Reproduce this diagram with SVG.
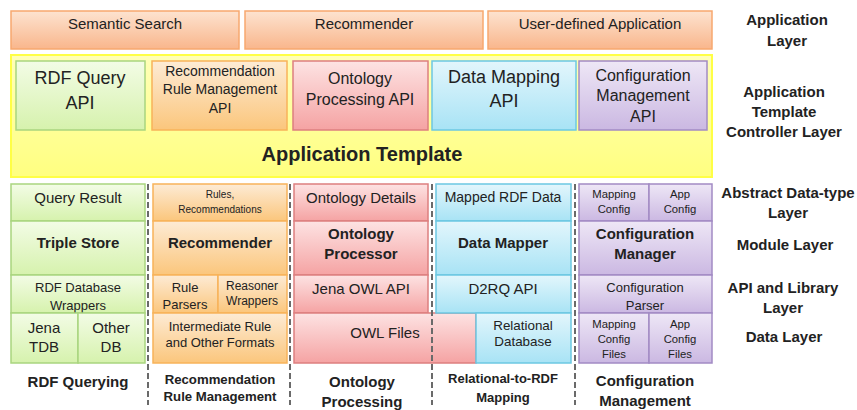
<svg xmlns="http://www.w3.org/2000/svg" width="857" height="410" viewBox="0 0 857 410">
<defs>
<linearGradient id="gO" x1="0" y1="0" x2="0" y2="1"><stop offset="0" stop-color="#fde3d0"/><stop offset="1" stop-color="#f9b68c"/></linearGradient>
<linearGradient id="gY" x1="0" y1="0" x2="0" y2="1"><stop offset="0" stop-color="#ffffb8"/><stop offset="1" stop-color="#ffff80"/></linearGradient>
<linearGradient id="gG" x1="0" y1="0" x2="0" y2="1"><stop offset="0" stop-color="#f3fce6"/><stop offset="1" stop-color="#d6f2ad"/></linearGradient>
<linearGradient id="gA" x1="0" y1="0" x2="0" y2="1"><stop offset="0" stop-color="#fdebd5"/><stop offset="1" stop-color="#fbc67c"/></linearGradient>
<linearGradient id="gR" x1="0" y1="0" x2="0" y2="1"><stop offset="0" stop-color="#fde3e3"/><stop offset="1" stop-color="#f5a3a3"/></linearGradient>
<linearGradient id="gB" x1="0" y1="0" x2="0" y2="1"><stop offset="0" stop-color="#e3f6fc"/><stop offset="1" stop-color="#a8e3f5"/></linearGradient>
<linearGradient id="gP" x1="0" y1="0" x2="0" y2="1"><stop offset="0" stop-color="#eee7f6"/><stop offset="1" stop-color="#cbb8e2"/></linearGradient>
</defs>
<style>
text{font-family:"Liberation Sans",Arial,sans-serif;fill:#222;text-anchor:middle}
.b{font-weight:bold}
.o{fill:url(#gO);stroke:#f7a86f;stroke-width:1.5}
.y{fill:url(#gY);stroke:#ffff45;stroke-width:2}
.g{fill:url(#gG);stroke:#a9d57f;stroke-width:1.5}
.a{fill:url(#gA);stroke:#f8b35a;stroke-width:1.5}
.r{fill:url(#gR);stroke:#dd7f7f;stroke-width:1.5}
.u{fill:url(#gB);stroke:#6cc8e2;stroke-width:1.5}
.p{fill:url(#gP);stroke:#a28bc4;stroke-width:1.5}
.d{stroke:#6a6a6a;stroke-width:2;stroke-dasharray:6,3;fill:none}
.f15{font-size:15px}.f14{font-size:14px}.f13{font-size:13px}.f12{font-size:12px}.f11{font-size:11.3px}.f10{font-size:10px}.f16{font-size:16px}.f18{font-size:18px}
</style>

<g id="app-layer">
<g id="semantic-search"><rect class="o" x="11" y="11" width="228" height="38"/><text class="f15" x="125" y="29">Semantic Search</text></g>
<g id="recommender-app"><rect class="o" x="245" y="11" width="238" height="38"/><text class="f15" x="364" y="29">Recommender</text></g>
<g id="user-defined"><rect class="o" x="488" y="11" width="224" height="38"/><text class="f15" x="600" y="29">User-defined Application</text></g>
</g>

<g id="application-template">
<rect class="y" x="11" y="55" width="701" height="122"/>
<text class="b" x="362" y="161" style="font-size:20px">Application Template</text>
</g>
<g id="rdf-query-api"><rect class="g" x="16" y="61" width="129" height="69"/><text class="f18" x="80" y="84">RDF Query</text><text class="f18" x="80" y="109">API</text></g>
<g id="rec-rule-api"><rect class="a" x="152" y="61" width="135" height="69"/><text class="f14" x="220" y="76">Recommendation</text><text class="f14" x="220" y="94">Rule Management</text><text class="f14" x="220" y="113">API</text></g>
<g id="ontology-api"><rect class="r" x="293" y="61" width="135" height="69"/><text class="f16" x="360" y="84">Ontology</text><text class="f16" x="360" y="105">Processing API</text></g>
<g id="data-mapping-api"><rect class="u" x="432" y="61" width="144" height="69"/><text class="f18" x="504" y="83">Data Mapping</text><text class="f18" x="504" y="107">API</text></g>
<g id="config-api"><rect class="p" x="579" y="61" width="128" height="69"/><text class="f16" x="643" y="81">Configuration</text><text class="f16" x="643" y="101">Management</text><text class="f16" x="643" y="122">API</text></g>

<g id="col-rdf">
<rect class="g" x="11" y="184" width="134" height="37"/><text class="f15" x="78" y="203">Query Result</text>
<rect class="g" x="11" y="221" width="134" height="54"/><text class="f15 b" x="78" y="248">Triple Store</text>
<rect class="g" x="11" y="275" width="134" height="38"/><text class="f13" x="78" y="292">RDF Database</text><text class="f13" x="78" y="310">Wrappers</text>
<rect class="g" x="11" y="313" width="67" height="50"/><text class="f15" x="44" y="333">Jena</text><text class="f15" x="44" y="352">TDB</text>
<rect class="g" x="78" y="313" width="67" height="50"/><text class="f15" x="111" y="333">Other</text><text class="f15" x="111" y="352">DB</text>
<text class="f15 b" x="78" y="387">RDF Querying</text>
</g>

<g id="col-rec">
<rect class="a" x="153" y="184" width="134" height="37"/><text class="f10" x="220" y="198">Rules,</text><text class="f10" x="220" y="213">Recommendations</text>
<rect class="a" x="153" y="221" width="134" height="54"/><text class="f15 b" x="220" y="248">Recommender</text>
<rect class="a" x="153" y="275" width="65" height="38"/><text class="f13" x="185" y="292">Rule</text><text class="f13" x="185" y="309">Parsers</text>
<rect class="a" x="218" y="275" width="69" height="38"/><text class="f12" x="252" y="290">Reasoner</text><text class="f12" x="252" y="305">Wrappers</text>
<rect class="a" x="153" y="313" width="134" height="50"/><text class="f13" x="220" y="331">Intermediate Rule</text><text class="f13" x="220" y="347">and Other Formats</text>
<text class="b" style="font-size:13.2px" x="220" y="384">Recommendation</text><text class="b" style="font-size:13.2px" x="220" y="401">Rule Management</text>
</g>

<g id="col-onto">
<rect class="r" x="294" y="184" width="134" height="37"/><text class="f15" x="361" y="203">Ontology Details</text>
<rect class="r" x="294" y="221" width="134" height="54"/><text class="f15 b" x="361" y="239">Ontology</text><text class="f15 b" x="361" y="259">Processor</text>
<rect class="r" x="294" y="275" width="134" height="38"/><text class="f15" x="361" y="294">Jena OWL API</text>
<rect class="r" x="294" y="313" width="182" height="50"/><text class="f15" x="385" y="338">OWL Files</text>
<text class="f15 b" x="362" y="387">Ontology</text><text class="f15 b" x="362" y="407">Processing</text>
</g>

<g id="col-map">
<rect class="u" x="436" y="184" width="135" height="37"/><text class="f14" x="503" y="202">Mapped RDF Data</text>
<rect class="u" x="436" y="221" width="135" height="54"/><text class="f15 b" x="503" y="248">Data Mapper</text>
<rect class="u" x="436" y="275" width="135" height="38"/><text class="f15" x="503" y="294">D2RQ API</text>
<rect class="u" x="476" y="313" width="95" height="50"/><text style="font-size:13.4px" x="523" y="330">Relational</text><text style="font-size:13.4px" x="523" y="346">Database</text>
<text class="f13 b" x="503" y="383">Relational-to-RDF</text><text class="f13 b" x="503" y="402">Mapping</text>
</g>

<g id="col-config">
<rect class="p" x="579" y="184" width="70" height="37"/><text class="f11" x="614" y="198">Mapping</text><text class="f11" x="614" y="213">Config</text>
<rect class="p" x="649" y="184" width="63" height="37"/><text class="f11" x="680" y="198">App</text><text class="f11" x="680" y="213">Config</text>
<rect class="p" x="579" y="221" width="133" height="54"/><text class="f15 b" x="645" y="239">Configuration</text><text class="f15 b" x="645" y="259">Manager</text>
<rect class="p" x="579" y="275" width="133" height="38"/><text class="f13" x="645" y="292">Configuration</text><text class="f13" x="645" y="310">Parser</text>
<rect class="p" x="579" y="313" width="70" height="50"/><text class="f11" x="614" y="328">Mapping</text><text class="f11" x="614" y="343">Config</text><text class="f11" x="614" y="358">Files</text>
<rect class="p" x="649" y="313" width="63" height="50"/><text class="f11" x="680" y="328">App</text><text class="f11" x="680" y="343">Config</text><text class="f11" x="680" y="358">Files</text>
<text class="f15 b" x="645" y="386">Configuration</text><text class="f15 b" x="645" y="406">Management</text>
</g>

<g id="separators">
<line class="d" x1="148" y1="184" x2="148" y2="405"/>
<line class="d" x1="290" y1="184" x2="290" y2="405"/>
<line class="d" x1="432" y1="184" x2="432" y2="405"/>
<line class="d" x1="575" y1="184" x2="575" y2="405"/>
</g>

<g id="layer-labels">
<text class="f15 b" x="787" y="25">Application</text><text class="f15 b" x="787" y="46">Layer</text>
<text class="f15 b" x="784" y="97">Application</text><text class="f15 b" x="784" y="117">Template</text><text class="f15 b" x="784" y="137">Controller Layer</text>
<text class="f15 b" x="788" y="198">Abstract Data-type</text><text class="f15 b" x="788" y="218">Layer</text>
<text class="f15 b" x="785" y="250">Module Layer</text>
<text class="f15 b" x="783" y="293">API and Library</text><text class="f15 b" x="783" y="313">Layer</text>
<text class="f15 b" x="784" y="342">Data Layer</text>
</g>
</svg>
